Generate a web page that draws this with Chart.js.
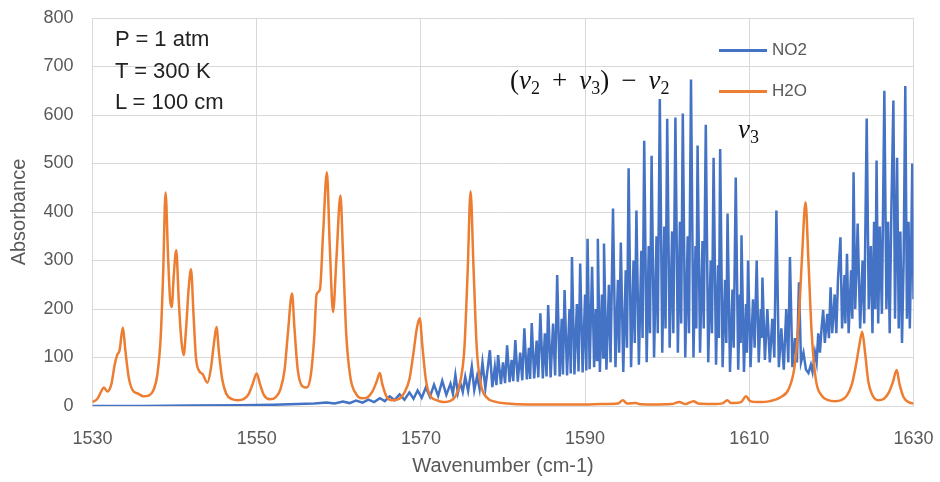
<!DOCTYPE html>
<html>
<head>
<meta charset="utf-8">
<script src="https://cdn.jsdelivr.net/npm/chart.js@4"></script>
<style>
  body { margin: 0; background: #fff; }
  #wrap { position: relative; width: 940px; height: 482px; }
  .note { position: absolute; font-family: 'Liberation Sans', Arial, sans-serif; font-size: 22px; line-height: 22px; color: #222; white-space: nowrap; }
  .math { position: absolute; font-family: 'Liberation Serif', 'DejaVu Serif', serif; font-size: 27px; line-height: 27px; color: #111; white-space: nowrap; }
  .math i { font-style: italic; }
  .math sub { font-size: 18px; vertical-align: -5px; line-height: 0; }
  .op { margin: 0 12px; }
  .leg { position: absolute; left: 719px; width: 120px; font-family: 'Liberation Sans', Arial, sans-serif; font-size: 17px; color: #595959; }
  .leg span.ln { position: absolute; left: 0; width: 48px; height: 3px; }
  .leg span.tx { position: absolute; left: 53px; top: -10px; line-height: 20px; }
</style>
</head>
<body>
<div id="wrap">
  <canvas id="chart" width="940" height="482"></canvas>
  <div class="note" style="left:115px; top:28px">P = 1 atm</div>
  <div class="note" style="left:115px; top:60px">T = 300 K</div>
  <div class="note" style="left:115px; top:91px">L = 100 cm</div>
  <div class="math" style="left:510px; top:67px">(<i>ν</i><sub>2</sub><span class="op">+</span><i>ν</i><sub>3</sub>)<span class="op">−</span><i>ν</i><sub>2</sub></div>
  <div class="math" style="left:738px; top:116px"><i>ν</i><sub>3</sub></div>
  <div class="leg" style="top:50px"><span class="ln" style="background:#4472C4; top:-1px"></span><span class="tx">NO2</span></div>
  <div class="leg" style="top:91px"><span class="ln" style="background:#ED7D31; top:-1px"></span><span class="tx">H2O</span></div>
</div>
<script>
// Спектры (волновое число, поглощение)
const no2Spectrum = [
  [1530,0],[1536,0],[1542,1],[1548,1.5],[1552,2.5],[1555,4],[1557,5],[1558.5,7],[1559.5,5],[1560.5,9],
  [1561.3,6],[1562.1,11],[1562.9,7],[1563.6,13],[1564.3,8],[1565,16],[1565.6,10],[1566.2,20],[1566.8,12],
  [1567.4,24],[1568,13],[1568.6,28],[1569.1,15],[1569.6,32],[1570.1,17],[1570.6,38],[1571.1,19],[1571.6,44],
  [1572.1,21],[1572.6,52],[1573.1,23],[1573.6,46],[1573.9,25],[1574.2,64],[1574.5,27],[1574.8,48],[1575.1,29],
  [1575.4,60],[1575.75,31],[1576.2,81],[1576.5,33],[1576.85,62],[1577.15,35],[1577.5,90],[1577.85,37],
  [1578.4,115],[1578.7,39],[1579.0,80],[1579.2,43],[1579.4,105],[1579.75,45],[1580.0,90],[1580.25,47],
  [1580.5,125],[1580.8,49],[1581.05,95],[1581.25,51],[1581.5,136],[1581.8,50],[1582.1,110],[1582.35,53],
  [1582.6,160],[1582.9,55],[1583.15,120],[1583.3,56],[1583.5,171],[1583.8,57],[1584.1,135],[1584.3,59],
  [1584.55,191],[1584.85,57],[1585.1,150],[1585.3,61],[1585.5,208],[1585.8,59],[1586.1,170],[1586.35,63],
  [1586.6,270],[1586.9,61],[1587.15,180],[1587.3,65],[1587.5,239],[1587.8,63],[1588.1,200],[1588.25,67],
  [1588.4,307],[1588.7,65],[1589.0,210],[1589.2,71],[1589.4,294],[1589.7,69],[1590.0,230],[1590.15,73],
  [1590.3,345],[1590.55,76],[1590.85,287],[1591.1,80],[1591.3,200],[1591.45,95],[1591.55,345],[1591.8,70],
  [1592.05,230],[1592.2,100],[1592.3,335],[1592.6,75],[1592.9,250],[1593.1,90],[1593.4,407],[1593.7,80],
  [1594.0,260],[1594.15,110],[1594.35,337],[1594.65,70],[1594.95,280],[1595.1,120],[1595.3,490],[1595.6,80],
  [1595.9,300],[1596.05,130],[1596.25,403],[1596.55,85],[1596.85,320],[1597.0,140],[1597.2,547],[1597.5,90],
  [1597.75,330],[1597.9,150],[1598.1,516],[1598.4,100],[1598.7,350],[1598.85,150],[1599.1,633],[1599.4,110],
  [1599.65,370],[1599.8,160],[1600.0,592],[1600.3,120],[1600.6,360],[1600.75,150],[1601.0,595],[1601.3,110],
  [1601.55,380],[1601.7,170],[1601.9,603],[1602.2,100],[1602.5,350],[1602.65,150],[1602.9,673],[1603.2,100],
  [1603.45,330],[1603.55,160],[1603.7,537],[1604.0,110],[1604.3,340],[1604.45,160],[1604.7,580],[1605.0,90],
  [1605.3,300],[1605.45,150],[1605.65,512],[1605.95,85],[1606.2,290],[1606.3,140],[1606.45,530],[1606.75,80],
  [1607.05,260],[1607.2,130],[1607.35,397],[1607.65,70],[1607.95,240],[1608.1,120],[1608.35,471],[1608.65,75],
  [1608.85,230],[1608.95,130],[1609.05,352],[1609.35,70],[1609.6,210],[1609.7,110],[1609.85,300],[1610.15,80],
  [1610.45,220],[1610.65,120],[1610.9,300],[1611.15,90],[1611.4,200],[1611.5,140],[1611.6,265],[1611.9,95],
  [1612.2,200],[1612.5,90],[1612.8,180],[1613.05,100],[1613.3,403],[1613.6,80],[1613.9,160],[1614.2,75],
  [1614.5,200],[1614.75,90],[1614.95,307],[1615.25,80],[1615.55,140],[1615.8,90],[1616.05,255],[1616.3,90],
  [1616.6,110],[1616.9,75],[1617.2,68],[1617.5,85],[1617.7,70],[1618.0,110],[1618.2,90],[1618.4,150],
  [1618.6,110],[1618.8,160],[1619.0,198],[1619.2,130],[1619.5,190],[1619.7,140],[1619.9,245],[1620.1,150],
  [1620.4,230],[1620.6,150],[1620.8,260],[1621.1,348],[1621.3,160],[1621.6,270],[1621.7,170],[1621.9,314],
  [1622.1,150],[1622.4,280],[1622.55,180],[1622.7,482],[1622.9,200],[1623.05,280],[1623.2,376],[1623.5,160],
  [1623.8,300],[1624.0,170],[1624.3,593],[1624.55,200],[1624.8,330],[1625.0,150],[1625.2,380],[1625.35,200],
  [1625.5,506],[1625.7,170],[1625.9,370],[1626.15,190],[1626.45,650],[1626.7,200],[1626.9,380],[1627.1,150],
  [1627.3,400],[1627.55,630],[1627.75,180],[1628.0,512],[1628.2,160],[1628.4,360],[1628.6,130],[1628.8,300],
  [1629.0,660],[1629.2,180],[1629.4,380],[1629.55,160],[1629.7,300],[1629.85,500],[1630,220]
]

const h2oSpectrum = [
  [1530,8],[1530.6,15],[1531.0,28],[1531.4,38],[1531.8,30],[1532.3,45],[1532.7,85],[1533.0,105],[1533.3,115],
  [1533.7,162],[1534.0,115],[1534.4,60],[1534.9,32],[1535.5,26],[1536.2,20],[1536.9,22],[1537.4,32],[1537.9,65],
  [1538.3,140],[1538.6,270],[1538.9,440],[1539.2,310],[1539.45,220],[1539.65,204],[1539.9,270],[1540.2,321],
  [1540.5,220],[1540.8,140],[1541.1,105],[1541.4,160],[1541.7,240],[1542.0,282],[1542.3,190],[1542.6,100],
  [1543.0,72],[1543.4,66],[1544.0,48],[1544.4,75],[1544.8,130],[1545.1,163],[1545.4,110],[1545.8,55],
  [1546.3,25],[1547.0,14],[1547.7,12],[1548.4,14],[1549.0,24],[1549.5,45],[1550.0,67],[1550.4,45],[1550.9,22],
  [1551.6,14],[1552.3,18],[1552.9,35],[1553.4,75],[1553.8,150],[1554.3,232],[1554.6,160],[1555.0,75],
  [1555.6,40],[1556.1,38],[1556.6,65],[1557.0,140],[1557.3,230],[1557.7,240],[1558.1,360],[1558.55,482],
  [1558.9,330],[1559.3,194],[1559.7,300],[1560.2,434],[1560.5,320],[1560.9,150],[1561.4,60],[1562.1,25],
  [1562.8,16],[1563.5,18],[1564.1,30],[1564.6,50],[1565.0,68],[1565.3,45],[1565.8,20],[1566.5,12],[1567.3,14],
  [1568.0,28],[1568.6,55],[1569.1,110],[1569.5,160],[1569.85,181],[1570.2,120],[1570.6,55],[1571.1,22],
  [1571.9,12],[1572.7,8],[1573.5,10],[1574.2,20],[1574.8,50],[1575.3,120],[1575.7,280],[1576.05,443],
  [1576.4,290],[1576.8,120],[1577.3,45],[1578.0,18],[1579.0,9],[1580.5,5],[1583,3],[1587,3],[1590,3],[1592,4],
  [1594.0,5],[1594.6,12],[1595.1,5],[1596.2,6],[1596.6,4],[1598,3],[1600.5,4],[1601.5,8],[1602.2,4],
  [1603.2,10],[1603.8,5],[1605.5,4],[1606.8,6],[1607.3,12],[1607.8,6],[1609.0,8],[1609.6,20],[1610.1,10],
  [1611,8],[1612.5,10],[1613.8,18],[1614.8,35],[1615.5,80],[1616.0,170],[1616.4,300],[1616.85,420],
  [1617.2,300],[1617.6,150],[1618.1,55],[1618.8,22],[1619.6,12],[1620.4,10],[1621.2,12],[1621.9,22],
  [1622.5,45],[1623.0,85],[1623.4,125],[1623.75,153],[1624.1,110],[1624.5,50],[1625.0,22],[1625.7,12],
  [1626.4,15],[1627.0,28],[1627.5,50],[1627.95,74],[1628.3,45],[1628.8,18],[1629.4,8],[1630,5]
]

const xRange = [1530, 1630]
const yRange = [0, 800]

const toPoints = arr => arr.map(([x, y]) => ({ x, y }))

new Chart(document.getElementById('chart'), {
    type: 'line',
    data: {
        datasets: [
            {
                label: 'NO2',
                data: toPoints(no2Spectrum),
                borderColor: '#4472C4',
                borderWidth: 2.5,
                pointRadius: 0,
                tension: 0,
                order: 1,
            },
            {
                label: 'H2O',
                data: toPoints(h2oSpectrum),
                borderColor: '#ED7D31',
                borderWidth: 2.5,
                pointRadius: 0,
                cubicInterpolationMode: 'monotone',
                order: 0,
            },
        ]
    },
    options: {
        responsive: false,
        animation: false,
        layout: { padding: { top: 18, right: 26.5, left: 0, bottom: 0 } },
        plugins: { legend: { display: false }, tooltip: { enabled: false } },
        scales: {
            x: {
                type: 'linear',
                min: xRange[0], max: xRange[1],
                grid: { color: '#d9d9d9', drawTicks: false },
                border: { color: '#d9d9d9' },
                ticks: { stepSize: 20, padding: 22, color: '#595959', font: { family: 'Liberation Sans', size: 18 }, callback: v => String(v) },
                title: { display: true, text: 'Wavenumber (cm-1)', color: '#595959', font: { family: 'Liberation Sans', size: 20 }, padding: { top: 4, bottom: 4 } },
                afterFit: s => { s.height = 76; s.paddingLeft = 0; s.paddingRight = 0 },
            },
            y: {
                min: yRange[0], max: yRange[1],
                grid: { color: '#d9d9d9', drawTicks: false },
                border: { color: '#d9d9d9' },
                ticks: { stepSize: 100, padding: 19, color: '#595959', font: { family: 'Liberation Sans', size: 18 } },
                title: { display: true, text: 'Absorbance', color: '#595959', font: { family: 'Liberation Sans', size: 20 }, padding: { top: 7, bottom: 0 } },
                afterFit: s => { s.width = 92.5; s.paddingTop = 0; s.paddingBottom = 0 },
            }
        }
    }
})
</script>
</body>
</html>
